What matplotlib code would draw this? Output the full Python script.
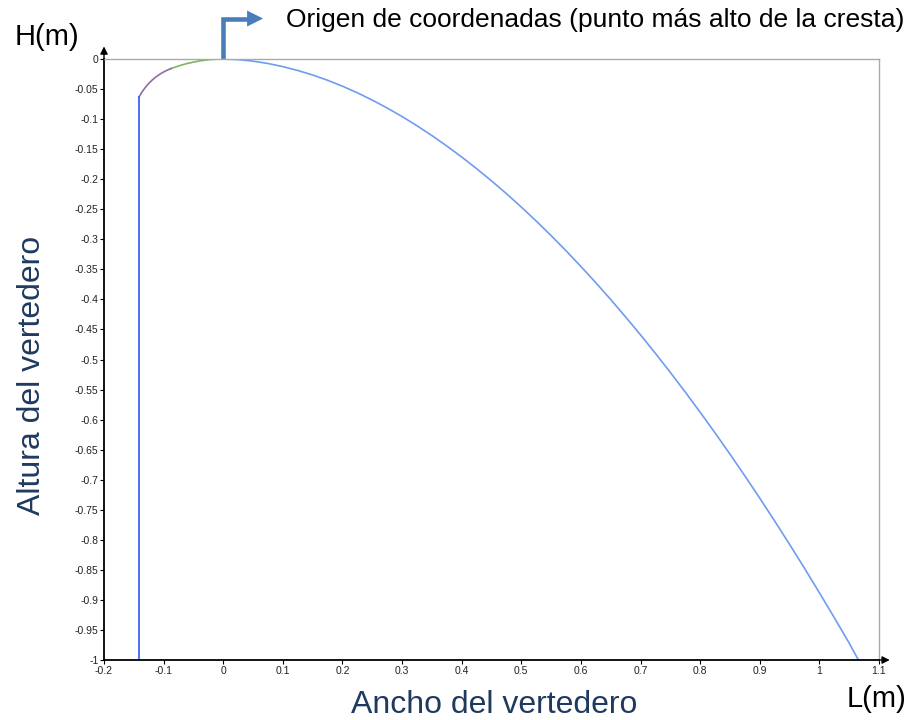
import matplotlib
matplotlib.use("Agg")
import matplotlib.pyplot as plt

plt.rcParams['font.family'] = ['Liberation Sans', 'DejaVu Sans']

# perfil aguas abajo (x, y) en metros
x_down = [0.0, 0.025, 0.05, 0.075, 0.1, 0.125, 0.15, 0.175, 0.2, 0.225, 0.25,
          0.275, 0.3, 0.325, 0.35, 0.375, 0.4, 0.425, 0.45, 0.475, 0.5, 0.525,
          0.55, 0.575, 0.6, 0.625, 0.65, 0.675, 0.7, 0.725, 0.75, 0.775, 0.8,
          0.825, 0.85, 0.875, 0.9, 0.925, 0.95, 0.975, 1.0, 1.025, 1.05, 1.0655]
y_down = [0.0, -0.0010, -0.0035, -0.0074, -0.0126, -0.0190, -0.0266, -0.0353,
          -0.0452, -0.0562, -0.0683, -0.0815, -0.0957, -0.1110, -0.1273,
          -0.1447, -0.1630, -0.1824, -0.2027, -0.2240, -0.2463, -0.2696,
          -0.2938, -0.3190, -0.3452, -0.3722, -0.4002, -0.4292, -0.4590,
          -0.4898, -0.5215, -0.5541, -0.5877, -0.6221, -0.6574, -0.6936,
          -0.7307, -0.7687, -0.8076, -0.8473, -0.888, -0.9295, -0.9719, -1.0]

# arco R1 (verde) y arco R2 (morado) aguas arriba
x_r1 = [0.0, -0.01, -0.02, -0.03, -0.04, -0.05, -0.06, -0.07, -0.08, -0.0875]
y_r1 = [0.0, -0.0002, -0.0008, -0.0018, -0.0032, -0.0051, -0.0073, -0.0100,
        -0.0132, -0.0158]
x_r2 = [-0.0875, -0.095, -0.10, -0.105, -0.11, -0.115, -0.12, -0.125, -0.13,
        -0.135, -0.1375, -0.14, -0.1415]
y_r2 = [-0.0158, -0.0190, -0.0215, -0.0244, -0.0277, -0.0314, -0.0357,
        -0.0406, -0.0463, -0.0530, -0.0568, -0.0611, -0.0635]

# paramento vertical
x_vert = [-0.1415, -0.1415]
y_vert = [-0.0635, -1.0]

x_ticks = [-0.2, -0.1, 0, 0.1, 0.2, 0.3, 0.4, 0.5, 0.6, 0.7, 0.8, 0.9, 1, 1.1]
y_ticks = [0, -0.05, -0.1, -0.15, -0.2, -0.25, -0.3, -0.35, -0.4, -0.45, -0.5,
           -0.55, -0.6, -0.65, -0.7, -0.75, -0.8, -0.85, -0.9, -0.95, -1]


def fmt(v):
    s = ('%.2f' % v).rstrip('0').rstrip('.')
    return '0' if s in ('-0', '0') else s


fig = plt.figure(figsize=(9.06, 7.2), dpi=100)
ax = fig.add_axes([0.1148, 0.0833, 0.8554, 0.8347])

ax.plot(x_down, y_down, color='#6f9cf0', lw=1.2)
ax.plot(x_r1, y_r1, color='#7fb45e', lw=1.2)
ax.plot(x_r2, y_r2, color='#8e6f9e', lw=1.2)
ax.plot(x_vert, y_vert, color='#3f63f0', lw=1.3)

ax.set_xlim(-0.2, 1.1)
ax.set_ylim(-1, 0)
ax.set_xticks(x_ticks)
ax.set_xticklabels([fmt(v) for v in x_ticks])
ax.set_yticks(y_ticks)
ax.set_yticklabels([fmt(v) for v in y_ticks])
ax.tick_params(labelsize=7.5, length=3, width=0.8, colors='black',
               labelcolor='#222222', pad=1)

for s in ['top', 'right']:
    ax.spines[s].set_color('#aaaaaa')
    ax.spines[s].set_linewidth(1)
for s in ['left', 'bottom']:
    ax.spines[s].set_color('black')
    ax.spines[s].set_linewidth(1.3)

# flechas de los ejes
ax.annotate('', xy=(1.118, -1), xytext=(1.1, -1), xycoords='data',
            arrowprops=dict(arrowstyle='-|>', color='black', lw=1,
                            mutation_scale=11, shrinkA=0, shrinkB=0),
            annotation_clip=False)
ax.annotate('', xy=(-0.2, 0.021), xytext=(-0.2, 0.0), xycoords='data',
            arrowprops=dict(arrowstyle='-|>', color='black', lw=1,
                            mutation_scale=11, shrinkA=0, shrinkB=0),
            annotation_clip=False)

# flecha del origen
ax.plot([0, 0, 0.042], [0, 0.0674, 0.0674], color='#4a7ebb', lw=3.3,
        clip_on=False, solid_capstyle='butt', solid_joinstyle='miter')
ax.annotate('', xy=(0.0668, 0.0674), xytext=(0.040, 0.0674), xycoords='data',
            arrowprops=dict(arrowstyle='-|>,head_length=1,head_width=0.5',
                            color='#4a7ebb', lw=0, mutation_scale=11.5,
                            shrinkA=0, shrinkB=0),
            annotation_clip=False)

fig.text(0.316, 0.972, 'Origen de coordenadas (punto más alto de la cresta)',
         fontsize=19, ha='left', va='center', color='black')
fig.text(0.016, 0.949, 'H(m)', fontsize=21, ha='left', va='center')
fig.text(0.934, 0.029, 'L(m)', fontsize=21, ha='left', va='center')
fig.text(0.545, 0.021, 'Ancho del vertedero', fontsize=23, ha='center',
         va='center', color='#1f3a5f')
fig.text(0.035, 0.478, 'Altura del vertedero', fontsize=23, ha='center',
         va='center', rotation=90, color='#1f3a5f')

fig.savefig('out.png', dpi=100)
